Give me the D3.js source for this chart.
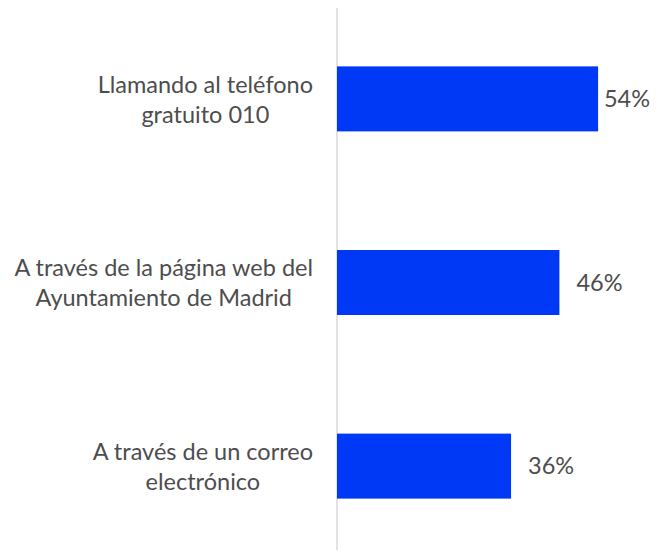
<!DOCTYPE html>
<html>
<head>
<meta charset="utf-8">
<script src="https://cdn.jsdelivr.net/npm/d3@7"></script>
<style>
  body { margin: 0; background: #fff; }
  text { font-family: Lato, "Open Sans", sans-serif; }
</style>
</head>
<body>
<div class="chart"></div>
<script>
// data
const categories = [
  ["Llamando al teléfono", "gratuito 010"],
  ["A través de la página web del", "Ayuntamiento de Madrid"],
  ["A través de un correo", "electrónico"]
];
const values = [54, 46, 36];

const W = 656, H = 554;
const axisX = 337;
const fontSize = 23.5;
const textColor = "#4d4d4d";

const svg = d3.select(".chart")
  .append("svg")
  .attr("width", W)
  .attr("height", H);

// scales
const xScale = d3.scaleLinear().domain([0, 100]).range([axisX, axisX + 483.5]);
const yScale = d3.scaleBand()
  .domain(d3.range(categories.length))
  .range([8, 557])
  .paddingInner(0.646)
  .paddingOuter(0.318);

// vertical axis line
svg.append("line")
  .attr("x1", axisX).attr("x2", axisX)
  .attr("y1", 8).attr("y2", 550)
  .attr("stroke", "#d9d9d9")
  .attr("stroke-width", 1.5);

// bars
svg.selectAll("rect.bar")
  .data(values)
  .enter().append("rect")
  .attr("class", "bar")
  .attr("x", xScale(0))
  .attr("y", (d, i) => yScale(i))
  .attr("width", d => xScale(d) - xScale(0))
  .attr("height", yScale.bandwidth())
  .attr("fill", "#0039f5");

// value labels (pushed back in if they'd run off the page)
svg.selectAll("text.val")
  .data(values)
  .enter().append("text")
  .attr("class", "val")
  .attr("y", (d, i) => yScale(i) + yScale.bandwidth() / 2)
  .attr("dy", "0.35em")
  .attr("fill", textColor)
  .style("font-size", fontSize + "px")
  .text(d => d + "%")
  .each(function (d) {
    const w = this.getComputedTextLength();
    const x = Math.min(xScale(d) + 17, W - 6 - w);
    d3.select(this).attr("x", x);
  });

// category labels, centred lines, right edge at 313
const cat = svg.selectAll("text.cat")
  .data(categories)
  .enter().append("text")
  .attr("class", "cat")
  .attr("text-anchor", "middle")
  .attr("fill", textColor)
  .style("font-size", fontSize + "px")
  .attr("y", (d, i) => yScale(i) + yScale.bandwidth() / 2);

cat.selectAll("tspan")
  .data(d => d)
  .enter().append("tspan")
  .attr("dy", (d, j) => j === 0 ? "-0.26em" : "1.28em")
  .text(d => d);

cat.each(function () {
  const spans = d3.select(this).selectAll("tspan");
  let maxW = 0;
  spans.each(function () { maxW = Math.max(maxW, this.getComputedTextLength()); });
  spans.attr("x", 313 - maxW / 2);
});
</script>
</body>
</html>
